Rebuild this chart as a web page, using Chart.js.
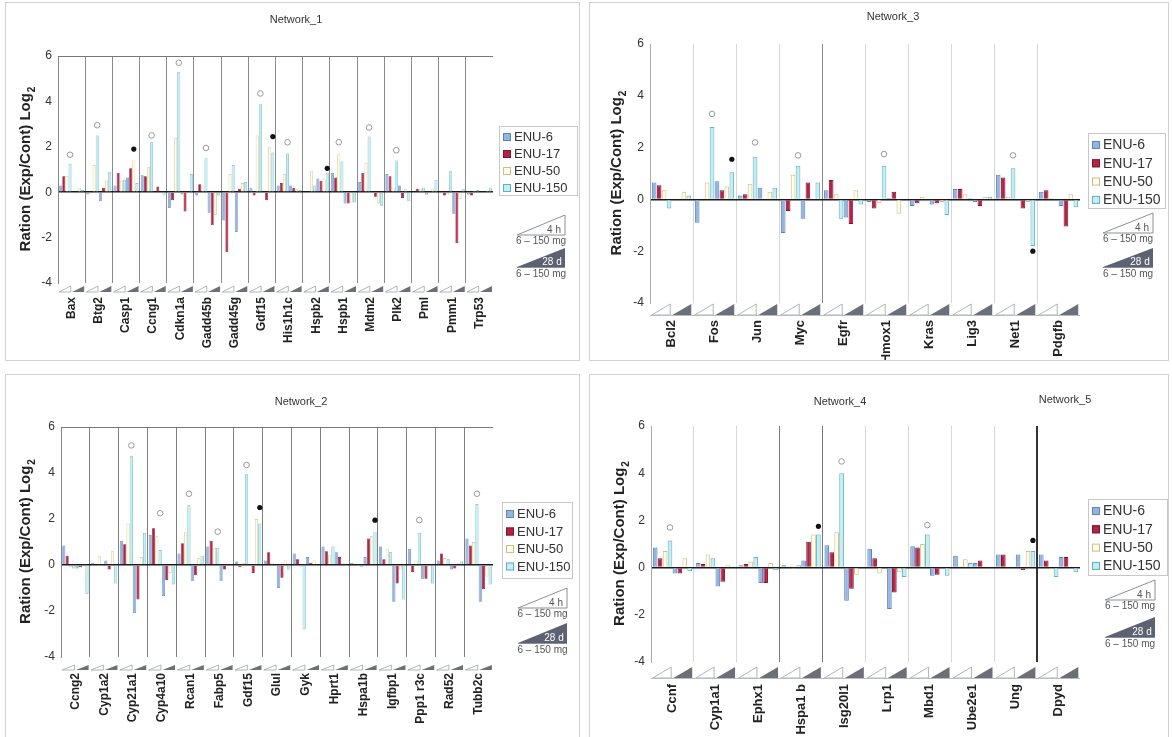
<!DOCTYPE html>
<html>
<head>
<meta charset="utf-8">
<script src="https://cdn.jsdelivr.net/npm/chart.js@4.4.0/dist/chart.umd.min.js"></script>
<style>
html,body{margin:0;padding:0;background:#fff;}
body{width:1172px;height:737px;position:relative;overflow:hidden;font-family:"Liberation Sans",Arial,sans-serif;}
.panel{position:absolute;outline:1px solid #d2d2d2;background:#fff;}
.panel canvas{position:absolute;left:0;top:0;}
</style>
</head>
<body>
<div class="panel" style="left:6px;top:3px;width:573px;height:357px"><canvas id="c1" width="573" height="357"></canvas></div>
<div class="panel" style="left:6px;top:375px;width:573px;height:362px"><canvas id="c2" width="573" height="362"></canvas></div>
<div class="panel" style="left:590px;top:3px;width:578px;height:357px"><canvas id="c3" width="578" height="357"></canvas></div>
<div class="panel" style="left:590px;top:375px;width:578px;height:362px"><canvas id="c4" width="578" height="362"></canvas></div>
<script>
// ---------------- DATA ----------------
const SERIES = ['ENU-6', 'ENU-17', 'ENU-50', 'ENU-150'];
const Y_MIN = -4, Y_MAX = 6, Y_STEP = 2;

// Network_1
const net1_genes = ['Bax','Btg2','Casp1','Ccng1','Cdkn1a','Gadd45b','Gadd45g','Gdf15','His1h1c','Hspb2','Hspb1','Mdm2','Plk2','Pml','Pmm1','Trp53'];
const net1_enu6_4h    = [0.3, -0.1, 0.3, 0.75, -0.7, -0.15, -1.25, 0.2, 0.3, -0.05, 0.85, 0.45, 0.8, -0.05, -0.05, -0.1];
const net1_enu17_4h   = [0.7, -0.05, 0.85, 0.7, -0.35, 0.35, -2.65, -0.15, 0.4, 0.0, 0.65, 0.85, 0.7, 0.15, -0.15, -0.15];
const net1_enu50_4h   = [0.7, 1.2, 0.5, 1.1, 2.4, 0.3, 0.8, 2.5, 0.8, 0.95, 1.7, 1.3, 0.2, 0.15, -0.1, 0.05];
const net1_enu150_4h  = [1.25, 2.5, 0.55, 2.2, 5.3, 1.5, 1.2, 3.9, 1.7, 0.3, 1.35, 2.45, 1.4, 0.2, 0.95, 0.1];
const net1_enu6_28d   = [-0.05, -0.4, 0.65, 0.0, -0.1, -0.9, -1.75, 0.0, 0.3, 0.6, -0.5, 0.0, 0.3, -0.1, -0.95, -0.05];
const net1_enu17_28d  = [-0.05, 0.2, 1.05, 0.25, -0.85, -1.45, 0.15, -0.35, 0.2, 0.5, -0.5, -0.2, -0.25, -0.05, -2.25, 0.0];
const net1_enu50_28d  = [0.2, 0.5, 1.4, -0.05, 0.0, -1.0, 0.4, 2.0, 0.15, 0.6, -0.45, -0.5, 0.15, 0.15, -0.3, 0.05];
const net1_enu150_28d = [0.1, 0.9, 0.4, -0.15, 0.8, -0.15, 0.45, 1.75, 0.1, 0.85, -0.45, -0.6, -0.4, 0.55, 0.15, 0.2];
// markers: [gene, bar (0-3 = 4 h ENU-6..150, 4-7 = 28 d ENU-6..150), value, 'o' open / 'f' filled]
const net1_marks = [['Bax',3,1.65,'o'],['Btg2',3,2.95,'o'],['Casp1',6,1.9,'f'],['Ccng1',3,2.5,'o'],['Cdkn1a',3,5.7,'o'],['Gadd45b',3,1.95,'o'],['Gdf15',3,4.35,'o'],['Gdf15',7,2.45,'f'],['His1h1c',3,2.2,'o'],['Hspb2',7,1.05,'f'],['Hspb1',2,2.2,'o'],['Mdm2',3,2.85,'o'],['Plk2',3,1.85,'o']];

// Network_2
const net2_genes = ['Ccng2','Cyp1a2','Cyp21a1','Cyp4a10','Rcan1','Fabp5','Gdf15','Glul','Gyk','Hprt1','Hspa1b','Igfbp1','Ppp1 r3c','Rad52','Tubb2c'];
const net2_enu6_4h    = [0.85, 0.1, 1.05, 1.3, 0.5, 0.8, 0.15, 0.2, 0.5, 0.8, 0.1, 0.8, 0.7, 0.2, 1.15];
const net2_enu17_4h   = [0.4, 0.05, 0.9, 1.6, 0.95, 1.05, -0.1, 0.55, 0.25, 0.6, 0.05, 0.25, -0.3, 0.5, 0.85];
const net2_enu50_4h   = [-0.1, 0.4, 1.8, 1.25, 1.45, 0.75, 0.1, 0.1, -0.1, 0.45, -0.05, 0.7, 0.2, 0.3, 1.0];
const net2_enu150_4h  = [-0.15, -0.05, 4.75, 0.65, 2.6, 0.75, 3.95, -0.05, -2.8, 0.8, -0.1, 0.55, 1.4, 0.25, 2.65];
const net2_enu6_28d   = [-0.15, 0.2, -2.1, -1.35, -0.7, -0.7, -0.05, -1.0, 0.35, 0.55, 0.35, -1.6, -0.6, -0.2, -1.6];
const net2_enu17_28d  = [-0.1, -0.2, -1.5, -0.65, -0.45, -0.2, -0.35, -0.55, 0.1, 0.35, 1.15, -0.8, -0.6, -0.15, -1.05];
const net2_enu50_28d  = [0.0, 0.6, 0.35, -0.35, 0.3, 0.05, 2.0, 0.2, 0.2, 0.1, 1.25, -0.2, 0.0, 0.1, -0.5];
const net2_enu150_28d = [-1.25, -0.8, 1.4, -0.85, 0.4, 0.05, 1.8, -0.2, -0.05, 0.05, 1.45, -1.5, -0.8, 0.15, -0.85];
const net2_marks = [['Cyp21a1',3,5.2,'o'],['Cyp4a10',3,2.25,'o'],['Rcan1',3,3.1,'o'],['Fabp5',3,1.45,'o'],['Gdf15',3,4.35,'o'],['Gdf15',7,2.5,'f'],['Hspa1b',7,1.95,'f'],['Ppp1 r3c',3,1.95,'o'],['Tubb2c',3,3.1,'o']];

// Network_3
const net3_genes = ['Bcl2','Fos','Jun','Myc','Egfr','Hmox1','Kras','Lig3','Net1','Pdgfb'];
const net3_enu6_4h    = [0.65, -0.9, 0.15, -1.3, 0.35, -0.1, -0.25, 0.4, 0.95, 0.3];
const net3_enu17_4h   = [0.55, 0.0, 0.2, -0.45, 0.75, -0.35, -0.15, 0.4, 0.85, 0.35];
const net3_enu50_4h   = [0.35, 0.65, 0.6, 0.95, 0.2, -0.15, 0.1, 0.2, 0.1, 0.05];
const net3_enu150_4h  = [-0.35, 2.8, 1.65, 1.3, -0.75, 1.3, 0.0, 0.05, 1.2, 0.0];
const net3_enu6_28d   = [0.0, 0.7, 0.45, -0.75, -0.7, 0.05, -0.2, -0.1, -0.05, -0.25];
const net3_enu17_28d  = [0.0, 0.35, 0.0, 0.65, -0.95, 0.3, -0.15, -0.25, -0.35, -1.05];
const net3_enu50_28d  = [0.3, 0.5, 0.3, 0.0, 0.35, -0.55, -0.1, 0.1, -0.1, 0.2];
const net3_enu150_28d = [0.15, 1.05, 0.45, 0.65, -0.2, 0.0, -0.6, 0.1, -1.8, -0.3];
const net3_marks = [['Fos',3,3.3,'o'],['Fos',7,1.55,'f'],['Jun',3,2.2,'o'],['Myc',3,1.7,'o'],['Hmox1',3,1.75,'o'],['Net1',3,1.7,'o'],['Net1',7,-2.0,'f']];

// Network_4 / Network_5
const net4_genes = ['Ccnf','Cyp1a1','Ephx1','Hspa1 b','Isg20l1','Lrp1','Mbd1','Ube2e1','Ung','Dpyd'];
const net4_enu6_4h    = [0.85, 0.2, 0.1, 0.1, 0.95, 0.8, 0.9, 0.5, 0.55, 0.55];
const net4_enu17_4h   = [0.4, 0.15, 0.15, 0.05, 0.65, 0.4, 0.85, 0.05, 0.55, 0.3];
const net4_enu50_4h   = [0.7, 0.55, 0.25, -0.05, 1.5, -0.25, 1.0, 0.35, 0.05, -0.05];
const net4_enu150_4h  = [1.15, 0.4, 0.45, 0.1, 4.0, 0.05, 1.4, 0.2, 0.05, -0.4];
const net4_enu6_28d   = [-0.25, -0.8, -0.65, 0.3, -1.4, -1.75, -0.35, 0.2, 0.55, 0.45];
const net4_enu17_28d  = [-0.25, -0.6, -0.65, 1.1, -0.9, -1.05, -0.3, 0.3, -0.1, 0.45];
const net4_enu50_28d  = [0.4, 0.1, 0.2, 1.4, -0.3, -0.2, 0.05, 0.05, 0.7, 0.05];
const net4_enu150_28d = [-0.15, 0.05, -0.1, 1.4, 0.0, -0.4, -0.35, 0.05, 0.7, -0.2];
const net4_marks = [['Ccnf',3,1.7,'o'],['Hspa1 b',7,1.75,'f'],['Isg20l1',3,4.5,'o'],['Mbd1',3,1.8,'o'],['Ung',7,1.15,'f']];

// ---------------- STYLE ----------------
const FILL = ['#93b5e2', '#b42244', '#fffcec', '#c4eef3'];
const EDGE = ['#5f82b9', '#7e1630', '#c9bf88', '#5eafc2'];
const FONT = '"Liberation Sans", Arial, sans-serif';

function decor(cfg) {
  return {
    id: 'decor',
    afterDatasetsDraw(chart) {
      const { ctx, scales: { y } } = chart;
      ctx.save();
      cfg.marks.forEach(m => {
        const gi = cfg.genes.indexOf(m[0]);
        const el = chart.getDatasetMeta(m[1]).data[gi];
        if (!el) return;
        const px = el.x, py = y.getPixelForValue(m[2]);
        ctx.beginPath();
        ctx.arc(px, py, m[3] === 'f' ? 2.6 : 2.8, 0, Math.PI * 2);
        if (m[3] === 'f') { ctx.fillStyle = '#111'; ctx.fill(); }
        else { ctx.fillStyle = '#fff'; ctx.fill(); ctx.strokeStyle = '#999'; ctx.lineWidth = 1; ctx.stroke(); }
      });
      ctx.restore();
    },
    afterDraw(chart) {
      const { ctx, chartArea: ca, scales: { x } } = chart;
      ctx.save();
      if (cfg.topLine) {
        ctx.strokeStyle = '#777'; ctx.lineWidth = 1;
        ctx.beginPath(); ctx.moveTo(ca.left, ca.top + 0.5); ctx.lineTo(ca.right, ca.top + 0.5); ctx.stroke();
      }
      // dose / time triangles under each gene
      const n = cfg.genes.length;
      const cw = (ca.right - ca.left) / n;
      const t = ca.bottom + cfg.triTop, b = ca.bottom + cfg.triBot;
      for (let i = 0; i < n; i++) {
        const cx = x.getPixelForValue(i);
        const l = cx - cw / 2, r = cx + cw / 2;
        ctx.beginPath();
        ctx.moveTo(l + cw * 0.04, b); ctx.lineTo(cx - cw * 0.03, b); ctx.lineTo(cx - cw * 0.03, t); ctx.closePath();
        ctx.strokeStyle = '#9aa3a8'; ctx.lineWidth = 0.8; ctx.stroke();
        ctx.beginPath();
        ctx.moveTo(cx + cw * 0.02, b); ctx.lineTo(r - cw * 0.04, b); ctx.lineTo(r - cw * 0.04, t); ctx.closePath();
        ctx.fillStyle = '#6b6f7a'; ctx.fill();
      }
      if (cfg.baseLine) {
        ctx.strokeStyle = '#b8bcbc'; ctx.lineWidth = 1;
        ctx.beginPath(); ctx.moveTo(ca.left, b + 0.5); ctx.lineTo(ca.right, b + 0.5); ctx.stroke();
      }
      // titles
      ctx.fillStyle = '#333'; ctx.font = '11px ' + FONT; ctx.textAlign = 'center'; ctx.textBaseline = 'middle';
      cfg.titles.forEach(tt => ctx.fillText(tt[0], tt[1], tt[2]));
      // y axis title with subscript
      ctx.save();
      ctx.translate(cfg.yTitleX, (ca.top + ca.bottom) / 2);
      ctx.rotate(-Math.PI / 2);
      ctx.fillStyle = '#222';
      const mainF = 'bold 15px ' + FONT, subF = 'bold 10px ' + FONT;
      const mainT = 'Ration (Exp/Cont) Log';
      ctx.font = mainF; const w1 = ctx.measureText(mainT).width;
      ctx.font = subF; const w2 = ctx.measureText('2').width;
      const sx = -(w1 + w2) / 2;
      ctx.textAlign = 'left';
      ctx.font = mainF; ctx.fillText(mainT, sx, 0);
      ctx.font = subF; ctx.fillText('2', sx + w1 + 1, 6);
      ctx.restore();
      // legend
      const L = cfg.legend;
      ctx.strokeStyle = '#c8c8c8'; ctx.lineWidth = 1;
      ctx.strokeRect(L.x + 0.5, L.y + 0.5, L.w, L.h);
      ctx.textAlign = 'left'; ctx.textBaseline = 'middle';
      SERIES.forEach((s, i) => {
        const ry = L.y + L.r0 + L.dy * i;
        ctx.fillStyle = FILL[i]; ctx.fillRect(L.x + 4, ry - 4, 8, 8);
        ctx.strokeStyle = EDGE[i]; ctx.lineWidth = 1; ctx.strokeRect(L.x + 4.5, ry - 3.5, 7, 7);
        ctx.fillStyle = '#333'; ctx.font = L.fs + 'px ' + FONT;
        ctx.fillText(s, L.x + 15, ry + 0.5);
      });
      // legend triangles
      const T = cfg.tri;
      ctx.beginPath();
      ctx.moveTo(T.l, T.o[1]); ctx.lineTo(T.r, T.o[1]); ctx.lineTo(T.r, T.o[0]); ctx.closePath();
      ctx.strokeStyle = '#8a9096'; ctx.lineWidth = 1; ctx.stroke();
      ctx.beginPath();
      ctx.moveTo(T.l, T.f[1]); ctx.lineTo(T.r, T.f[1]); ctx.lineTo(T.r, T.f[0]); ctx.closePath();
      ctx.fillStyle = '#5d6272'; ctx.fill();
      ctx.strokeStyle = '#8a9096'; ctx.beginPath(); ctx.moveTo(T.l, T.f[1] + 0.5); ctx.lineTo(T.r, T.f[1] + 0.5); ctx.stroke();
      ctx.textAlign = 'center';
      ctx.fillStyle = '#555'; ctx.font = '10px ' + FONT;
      ctx.fillText('4 h', T.r - 11, T.o[1] - 5);
      ctx.fillText('6 \u2013 150 mg', (T.l + T.r) / 2, T.o[1] + 6);
      ctx.fillText('6 \u2013 150 mg', (T.l + T.r) / 2, T.f[1] + 7);
      ctx.fillStyle = '#fff'; ctx.font = '10px ' + FONT;
      ctx.fillText('28 d', T.r - 13, T.f[1] - 5);
      ctx.restore();
    }
  };
}

function makePanel(cfg) {
  const datasets = cfg.series.map((arr, i) => ({
    label: SERIES[i % 4] + (i < 4 ? ' 4 h' : ' 28 d'),
    data: arr,
    backgroundColor: FILL[i % 4],
    borderColor: EDGE[i % 4],
    borderWidth: cfg.bw,
    categoryPercentage: 0.92,
    barPercentage: 0.94
  }));
  new Chart(document.getElementById(cfg.id), {
    type: 'bar',
    data: { labels: cfg.genes, datasets },
    options: {
      responsive: false,
      animation: false,
      layout: { padding: cfg.pad },
      plugins: { legend: { display: false }, title: { display: false }, tooltip: { enabled: false } },
      scales: {
        x: {
          grid: {
            offset: true, drawTicks: false,
            color: c => (c.index === undefined || c.index === 0) ? 'rgba(0,0,0,0)' : cfg.divColor(c.index),
            lineWidth: c => (c.index !== undefined && cfg.divWidth) ? cfg.divWidth(c.index) : 1
          },
          border: { display: false },
          ticks: {
            minRotation: 90, maxRotation: 90, autoSkip: false, padding: cfg.xpad,
            color: '#222', font: { family: FONT, size: cfg.xfs, weight: 'bold' }
          },
          afterFit: s => { s.height = cfg.xh; }
        },
        y: {
          min: Y_MIN, max: Y_MAX,
          ticks: { stepSize: Y_STEP, padding: 6, color: '#333', font: { family: FONT, size: 12 } },
          grid: {
            drawTicks: false,
            color: c => (c.tick && c.tick.value === 0) ? '#1a1a1a' : 'rgba(0,0,0,0)',
            lineWidth: c => (c.tick && c.tick.value === 0) ? 1.5 : 1
          },
          border: { display: true, color: cfg.axisColor, width: 1 },
          afterFit: s => { s.width = 40; }
        }
      }
    },
    plugins: [decor(cfg)]
  });
}

makePanel({
  id: 'c1', genes: net1_genes, marks: net1_marks, bw: 0.7,
  series: [net1_enu6_4h, net1_enu17_4h, net1_enu50_4h, net1_enu150_4h, net1_enu6_28d, net1_enu17_28d, net1_enu50_28d, net1_enu150_28d],
  pad: { left: 12, right: 86, top: 53, bottom: 0 }, xh: 77, xpad: 14, xfs: 12,
  divColor: () => '#8c8c8c', axisColor: '#888', topLine: true, baseLine: false,
  triTop: 3, triBot: 9, titles: [['Network_1', 290, 17]], yTitleX: 20,
  legend: { x: 493, y: 123, w: 78, h: 69, r0: 11, dy: 17, fs: 13 },
  tri: { l: 511, r: 559, o: [212, 232], f: [245, 264] }
});
makePanel({
  id: 'c2', genes: net2_genes, marks: net2_marks, bw: 0.7,
  series: [net2_enu6_4h, net2_enu17_4h, net2_enu50_4h, net2_enu150_4h, net2_enu6_28d, net2_enu17_28d, net2_enu50_28d, net2_enu150_28d],
  pad: { left: 15, right: 86, top: 52, bottom: 0 }, xh: 80, xpad: 16, xfs: 12,
  divColor: () => '#7e7e7e', axisColor: '#888', topLine: true, baseLine: false,
  triTop: 8, triBot: 13, titles: [['Network_2', 295, 27]], yTitleX: 20,
  legend: { x: 496, y: 127, w: 70, h: 76, r0: 12, dy: 17.5, fs: 13 },
  tri: { l: 512, r: 561, o: [213, 233], f: [248, 268] }
});
makePanel({
  id: 'c3', genes: net3_genes, marks: net3_marks, bw: 1,
  series: [net3_enu6_4h, net3_enu17_4h, net3_enu50_4h, net3_enu150_4h, net3_enu6_28d, net3_enu17_28d, net3_enu50_28d, net3_enu150_28d],
  pad: { left: 20, right: 88, top: 41, bottom: 0 }, xh: 57, xpad: 17, xfs: 13,
  divColor: i => i === 4 ? '#8a8a8a' : '#d3d9d3', axisColor: '#aaa', topLine: false, baseLine: true,
  triTop: 1, triBot: 12, titles: [['Network_3', 303, 14]], yTitleX: 27,
  legend: { x: 498, y: 130, w: 77, h: 75, r0: 12, dy: 18.3, fs: 14 },
  tri: { l: 513, r: 563, o: [210, 230], f: [245, 264] }
});
makePanel({
  id: 'c4', genes: net4_genes, marks: net4_marks, bw: 1,
  series: [net4_enu6_4h, net4_enu17_4h, net4_enu50_4h, net4_enu150_4h, net4_enu6_28d, net4_enu17_28d, net4_enu50_28d, net4_enu150_28d],
  pad: { left: 21, right: 88, top: 51, bottom: 0 }, xh: 75, xpad: 22, xfs: 13,
  divColor: i => i === 9 ? '#333' : (i === 3 || i === 4) ? '#777' : '#d3d9d3',
  divWidth: i => i === 9 ? 2 : 1,
  axisColor: '#aaa', topLine: false, baseLine: true,
  triTop: 5, triBot: 16, titles: [['Network_4', 250, 27], ['Network_5', 475, 25]], yTitleX: 30,
  legend: { x: 498, y: 124, w: 79, h: 76, r0: 12, dy: 18.3, fs: 14 },
  tri: { l: 515, r: 565, o: [205, 225], f: [242, 262] }
});
</script>
</body>
</html>
